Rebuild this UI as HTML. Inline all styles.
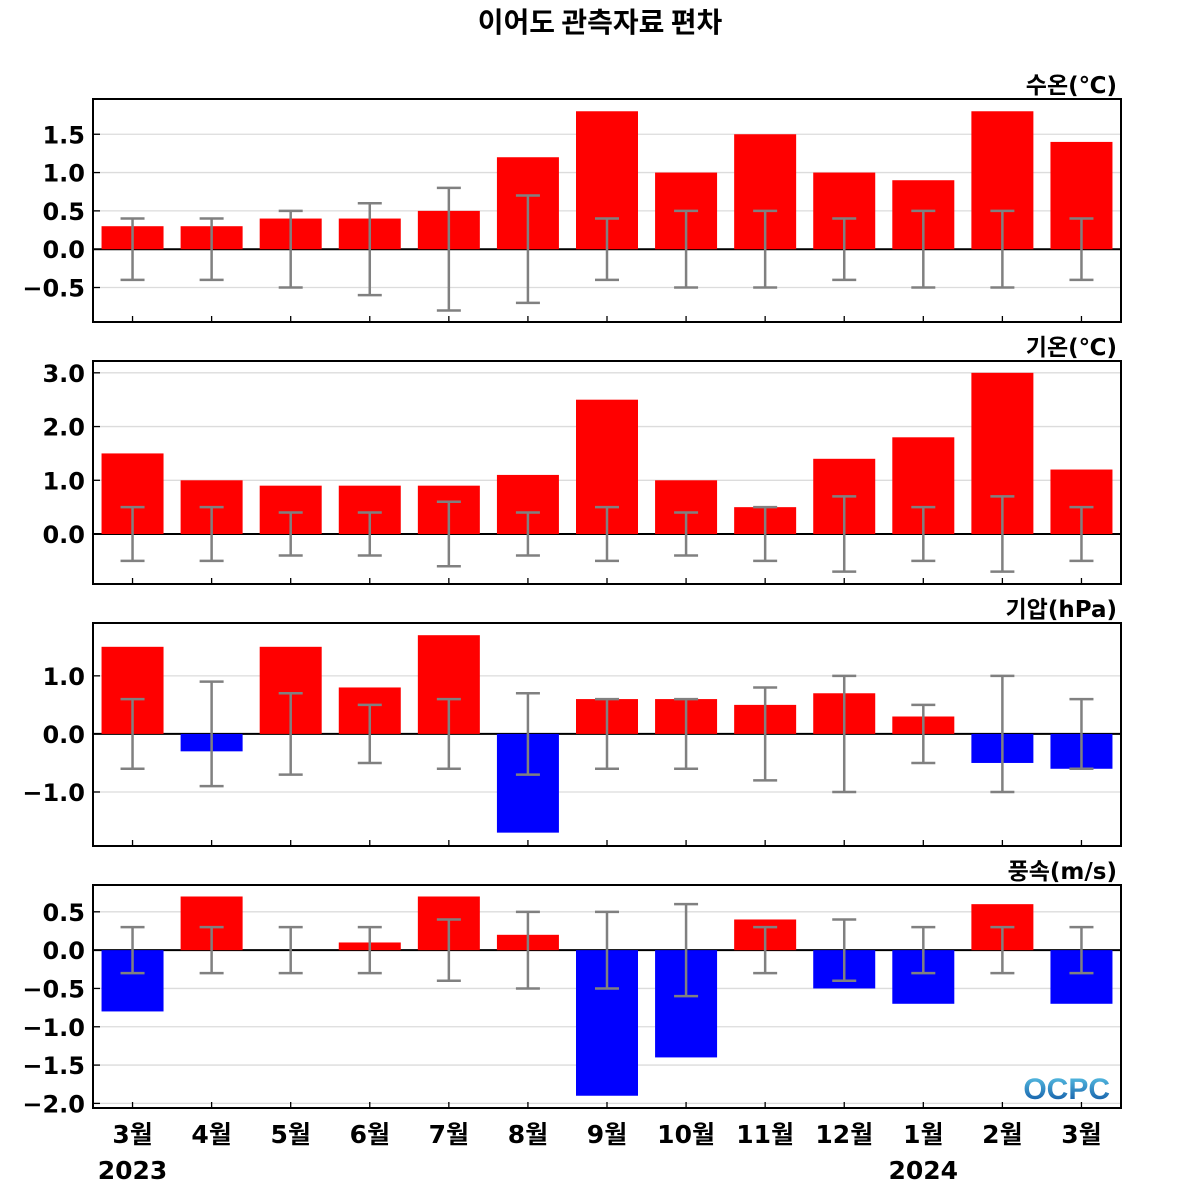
<!DOCTYPE html>
<html><head><meta charset="utf-8"><style>
html,body{margin:0;padding:0;background:#fff;}
svg{display:block;font-family:"Liberation Sans","Noto Sans CJK KR",sans-serif;}
</style></head><body>
<svg id="chart" width="1200" height="1200" viewBox="0 0 1200 1200">
<text x="600" y="32" text-anchor="middle" font-size="28" font-weight="bold" fill="#000" font-family="'Noto Sans CJK KR',sans-serif">이어도 관측자료 편차</text>
</svg>
<script>
const categories=["3월","4월","5월","6월","7월","8월","9월","10월","11월","12월","1월","2월","3월"];
const yearLabels=["2023","","","","","","","","","","2024","",""];
const waterTemp=[0.3,0.3,0.4,0.4,0.5,1.2,1.8,1.0,1.5,1.0,0.9,1.8,1.4];
const waterTempErr=[0.4,0.4,0.5,0.6,0.8,0.7,0.4,0.5,0.5,0.4,0.5,0.5,0.4];
const airTemp=[1.5,1.0,0.9,0.9,0.9,1.1,2.5,1.0,0.5,1.4,1.8,3.0,1.2];
const airTempErr=[0.5,0.5,0.4,0.4,0.6,0.4,0.5,0.4,0.5,0.7,0.5,0.7,0.5];
const pressure=[1.5,-0.3,1.5,0.8,1.7,-1.7,0.6,0.6,0.5,0.7,0.3,-0.5,-0.6];
const pressureErr=[0.6,0.9,0.7,0.5,0.6,0.7,0.6,0.6,0.8,1.0,0.5,1.0,0.6];
const wind=[-0.8,0.7,0.0,0.1,0.7,0.2,-1.9,-1.4,0.4,-0.5,-0.7,0.6,-0.7];
const windErr=[0.3,0.3,0.3,0.3,0.4,0.5,0.5,0.6,0.3,0.4,0.3,0.3,0.3];
const ticks1=[-0.5,0,0.5,1.0,1.5], ticks2=[0,1,2,3], ticks3=[-1,0,1], ticks4=[-2,-1.5,-1,-0.5,0,0.5];

const NS="http://www.w3.org/2000/svg";
const svg=document.getElementById('chart');
const TF="'DejaVu Sans','Noto Sans CJK KR',sans-serif";
function mk(tag,attrs,parent){const e=document.createElementNS(NS,tag);for(const k in attrs)e.setAttribute(k,attrs[k]);(parent||svg).appendChild(e);return e;}
const X0=93,X1=1121,step=(X1-X0)/13;
function xs(i){return X0+step*(i+0.5);}
const panels=[
 {name:"water-temp",title:"수온(℃)",top:99,bot:322,ymin:-0.95,ymax:1.96,vals:waterTemp,err:waterTempErr,ticks:ticks1,dec:1},
 {name:"air-temp",title:"기온(℃)",top:361,bot:584,ymin:-0.93,ymax:3.22,vals:airTemp,err:airTempErr,ticks:ticks2,dec:1},
 {name:"pressure",title:"기압(hPa)",top:623,bot:846,ymin:-1.93,ymax:1.91,vals:pressure,err:pressureErr,ticks:ticks3,dec:1},
 {name:"wind-speed",title:"풍속(m/s)",top:885,bot:1108,ymin:-2.06,ymax:0.85,vals:wind,err:windErr,ticks:ticks4,dec:1}
];
panels.forEach(p=>{
 const g=mk('g',{});
 
 
 const ys=v=>p.bot-(v-p.ymin)/(p.ymax-p.ymin)*(p.bot-p.top);
 p.ticks.forEach(t=>{
  const y=ys(t);
  const gl=mk('line',{x1:X0,x2:X1,y1:y,y2:y,stroke:"#dcdcdc","stroke-width":1.3},g);
  
  
  mk('line',{x1:X0,x2:X0+7,y1:y,y2:y,stroke:"#000","stroke-width":1.3},g);
  const tl=mk('text',{x:85,y:y+9,"text-anchor":"end","font-size":24,"font-weight":"bold",fill:"#000","font-family":TF},g);
  tl.textContent=(t<0?"\u2212":"")+Math.abs(t).toFixed(p.dec);
  
  
 });
 const zl=mk('line',{x1:X0,x2:X1,y1:ys(0),y2:ys(0),stroke:"#000","stroke-width":2},g);
 
 
 p.vals.forEach((v,i)=>{
  const y0=ys(0),y1=ys(v);
  const b=mk('rect',{x:xs(i)-31,y:Math.min(y0,y1),width:62,height:Math.abs(y1-y0),fill:v>=0?"#ff0000":"#0000ff"},g);
  
  
 });
 p.err.forEach((e,i)=>{
  const cx=xs(i),ya=ys(e),yb=ys(-e);
  const eg=mk('g',{stroke:"#808080","stroke-width":2.5},g);
  
  
  mk('line',{x1:cx,x2:cx,y1:ya,y2:yb},eg);
  mk('line',{x1:cx-12,x2:cx+12,y1:ya,y2:ya},eg);
  mk('line',{x1:cx-12,x2:cx+12,y1:yb,y2:yb},eg);
 });
 categories.forEach((c,i)=>{mk('line',{x1:xs(i),x2:xs(i),y1:p.bot,y2:p.bot-6,stroke:"#000","stroke-width":1.3},g);});
 const fr=mk('rect',{x:X0,y:p.top,width:X1-X0,height:p.bot-p.top,fill:"none",stroke:"#000","stroke-width":2},g);
 
 
 const t=mk('text',{x:1117,y:p.top-6,"text-anchor":"end","font-size":23,"font-weight":"bold",fill:"#000","font-family":TF},g);
 t.textContent=p.title;
 
 
});
categories.forEach((c,i)=>{
 const t=mk('text',{x:xs(i),y:1143,"text-anchor":"middle","font-size":25,"font-weight":"bold",fill:"#000","font-family":TF});
 t.textContent=c;
 
 
 if(yearLabels[i]){
  const y=mk('text',{x:xs(i),y:1179,"text-anchor":"middle","font-size":25,"font-weight":"bold",fill:"#000","font-family":TF});
  y.textContent=yearLabels[i];
  
  
 }
});
const defs=mk('defs',{});
const lg=mk('linearGradient',{id:'lg',x1:0,y1:0,x2:0,y2:1},defs);
mk('stop',{offset:0,'stop-color':'#5ec8e8'},lg);mk('stop',{offset:1,'stop-color':'#0a4fa0'},lg);
const logo=mk('text',{x:1110,y:1099,"text-anchor":"end","font-size":30,"font-weight":"bold",fill:"url(#lg)"});
logo.textContent="OCPC";


</script>
</body></html>
